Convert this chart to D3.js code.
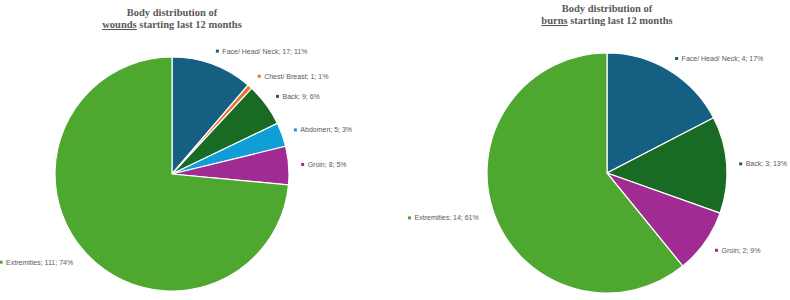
<!DOCTYPE html>
<html>
<head>
<meta charset="utf-8">
<script src="https://cdn.jsdelivr.net/npm/d3@7"></script>
<style>
  body { margin: 0; background: #fff; }
  .title { font-family: "Liberation Serif", "Times New Roman", serif; font-weight: bold; font-size: 10.5px; fill: #595959; }
  .lbl { font-family: "Liberation Sans", Arial, sans-serif; font-size: 7px; fill: #595959; }
</style>
</head>
<body>
<svg id="chart" width="790" height="300"></svg>
<script>
// wounds chart data
var woundCategories = ["Face/ Head/ Neck", "Chest/ Breast", "Back", "Abdomen", "Groin", "Extremities"];
var woundValues = [17, 1, 9, 5, 8, 111];

// burns chart data
var burnCategories = ["Face/ Head/ Neck", "Back", "Groin", "Extremities"];
var burnValues = [4, 3, 2, 14];

var colors = {
  "Face/ Head/ Neck": "#156082",
  "Chest/ Breast": "#E97132",
  "Back": "#196B24",
  "Abdomen": "#0F9ED5",
  "Groin": "#A02B93",
  "Extremities": "#4EA72E"
};

var svg = d3.select("#chart");

function drawPie(cfg) {
  var data = cfg.categories.map(function(c, i) { return { name: c, value: cfg.values[i] }; });
  var total = d3.sum(cfg.values);

  var pie = d3.pie().sort(null).value(function(d) { return d.value; });
  var arc = d3.arc().innerRadius(0).outerRadius(cfg.r);
  var labelR = cfg.r + 14;

  var g = svg.append("g").attr("transform", "translate(" + cfg.cx + "," + cfg.cy + ")");

  var arcs = pie(data);

  g.selectAll("path").data(arcs).enter().append("path")
    .attr("d", arc)
    .attr("fill", function(d) { return colors[d.data.name]; })
    .attr("stroke", "#fff")
    .attr("stroke-width", 1.2);

  // data labels: "name; value; pct"
  var lab = g.selectAll("g.lab").data(arcs).enter().append("g").attr("class", "lab");
  lab.each(function(d) {
    var a = (d.startAngle + d.endAngle) / 2;
    var x = labelR * Math.sin(a), y = -labelR * Math.cos(a);
    var right = Math.sin(a) >= 0;
    var txt = d.data.name + "; " + d.data.value + "; " + Math.round(d.data.value / total * 100) + "%";
    var sel = d3.select(this);
    var t = sel.append("text").attr("class", "lbl").attr("y", y).attr("dy", "0.35em").text(txt);
    var w = t.node().getComputedTextLength();
    var x0 = right ? x : x - w - 7;
    sel.append("rect")
      .attr("x", x0 - 1.5).attr("y", y - 1.5)
      .attr("width", 3).attr("height", 3)
      .attr("fill", colors[d.data.name]);
    t.attr("x", x0 + 5);
  });

  // title with underlined keyword
  var t1 = svg.append("text").attr("class", "title")
    .attr("x", cfg.cx).attr("y", cfg.titleY).attr("text-anchor", "middle")
    .text("Body distribution of");
  var t2 = svg.append("text").attr("class", "title")
    .attr("x", cfg.cx).attr("y", cfg.titleY + 12).attr("text-anchor", "middle");
  t2.append("tspan").attr("text-decoration", "underline").text(cfg.keyword);
  t2.append("tspan").text(" starting last 12 months");
}

drawPie({ categories: woundCategories, values: woundValues, cx: 172, cy: 174, r: 117, keyword: "wounds", titleY: 16 });
drawPie({ categories: burnCategories, values: burnValues, cx: 607, cy: 173, r: 120, keyword: "burns", titleY: 12 });
</script>
</body>
</html>
